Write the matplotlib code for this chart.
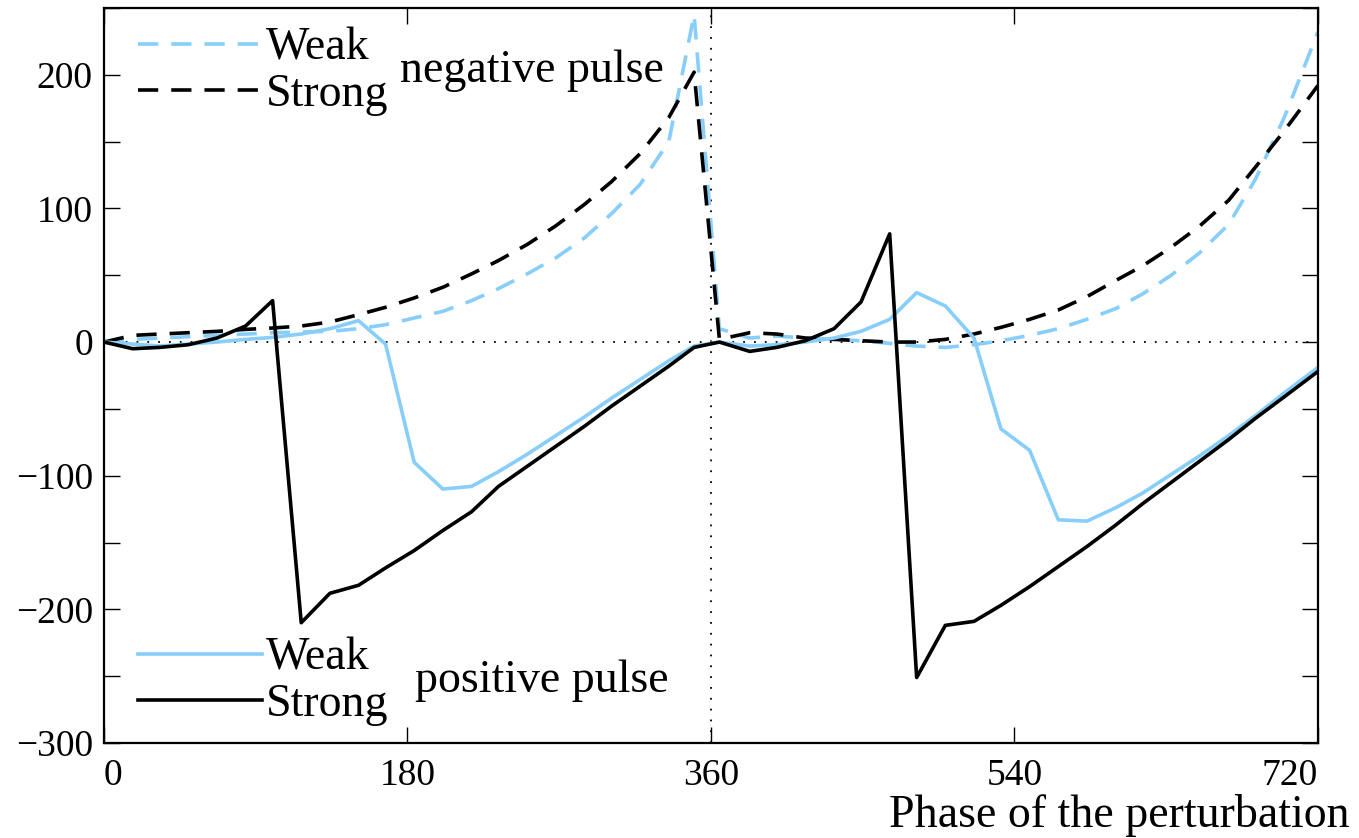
import matplotlib
matplotlib.use("Agg")
import matplotlib.pyplot as plt
from matplotlib.ticker import MultipleLocator

plt.rcParams['font.family'] = ['Liberation Serif', 'DejaVu Serif']

# phase of the perturbation (degrees), shared by all four curves
phase = [0, 17, 33, 50, 67, 84, 100, 117, 134, 151, 167, 184, 201, 218, 234,
         251, 268, 285, 301, 318, 335, 350, 365, 383, 399, 416, 433, 449, 466,
         482, 499, 516, 532, 549, 566, 583, 600, 616, 633, 650, 667, 683, 700, 720]

# negative pulse
weak_neg = [0, 2, 3, 4, 5, 6, 7, 7.5, 8, 10, 13, 18, 23, 31, 40,
            51, 63, 78, 96, 118, 150, 245, 10, 3, 4.5, 3, 2, 1, -1,
            -3, -4, -2, 1, 5, 10, 17, 25, 36, 50, 67, 88, 122, 168, 232]
strong_neg = [0, 5, 6, 7, 8, 9.5, 10.5, 12, 15, 20.5, 26, 33, 41, 51, 61,
              73, 87, 103, 120, 141, 168, 202, 2, 7, 6, 3, 2, 1, 0,
              0, 2, 6, 11, 17, 24, 34, 46, 57, 71, 87, 106, 131, 158, 192]

# positive pulse
weak_pos = [0, -1.5, -3, -1.5, 0, 2, 3.5, 6, 10, 16, -1.5, -90, -110, -108, -97,
            -84, -70, -56, -42, -28, -14, -3, 0, -3, -2, 0, 3, 8, 17,
            37, 27, 3, -65, -81, -133, -134, -124, -113, -99, -85, -70, -55, -38, -19]
strong_pos = [0, -5, -4, -2, 3, 12, 31, -210, -188, -182, -169, -156, -141, -127, -108,
              -93, -78, -63, -48, -33, -18, -4, 0, -7, -4, 1, 10, 30, 81,
              -251, -212, -209, -197, -183, -168, -153, -137, -121, -105, -89, -73, -57, -41, -22]

blue = '#87cefa'

fig = plt.figure(figsize=(13.59, 8.38), dpi=100)
ax = fig.add_axes([0.0765, 0.1134, 0.8933, 0.8771])

ax.axhline(0, color='black', lw=1.3, ls=(0, (1, 5)))
ax.axvline(360, color='black', lw=1.3, ls=(0, (1, 5)))

l_wn, = ax.plot(phase, weak_neg, color=blue, lw=2.6, dashes=(5.6, 3.6))
l_sn, = ax.plot(phase, strong_neg, color='black', lw=2.6, dashes=(5.6, 3.6))
l_wp, = ax.plot(phase, weak_pos, color=blue, lw=2.6)
l_sp, = ax.plot(phase, strong_pos, color='black', lw=2.6)

ax.set_xlim(0, 720)
ax.set_ylim(-300, 250)
ax.set_xticks([0, 180, 360, 540, 720])
ax.yaxis.set_major_locator(MultipleLocator(100))
ax.yaxis.set_minor_locator(MultipleLocator(50))
ax.tick_params(which='both', direction='in', length=11.5, width=1,
               top=True, right=True, labelsize=27)
ax.tick_params(axis='x', pad=11)
ax.tick_params(axis='y', pad=8)
xl = ax.get_xticklabels()
xl[0].set_ha('left')
xl[-1].set_ha('right')
for s in ax.spines.values():
    s.set_linewidth(1.6)

leg1 = ax.legend([l_wn, l_sn], ['Weak', 'Strong'], loc='upper left',
                 bbox_to_anchor=(0.028, 0.974), frameon=False, fontsize=33,
                 handlelength=2.7, handletextpad=0.1, labelspacing=0.09,
                 borderpad=0, borderaxespad=0)
ax.add_artist(leg1)
ax.legend([l_wp, l_sp], ['Weak', 'Strong'], loc='upper left',
          bbox_to_anchor=(0.028, 0.144), frameon=False, fontsize=33,
          handlelength=2.7, handletextpad=0.1, labelspacing=0.09,
          borderpad=0, borderaxespad=0)

ax.text(0.244, 0.914, 'negative pulse', transform=ax.transAxes,
        fontsize=33, va='center', ha='left')
ax.text(0.256, 0.084, 'positive pulse', transform=ax.transAxes,
        fontsize=33, va='center', ha='left')

fig.text(0.993, 0.027, 'Phase of the perturbation', fontsize=33,
         ha='right', va='center')

fig.savefig('out.png', dpi=100)
